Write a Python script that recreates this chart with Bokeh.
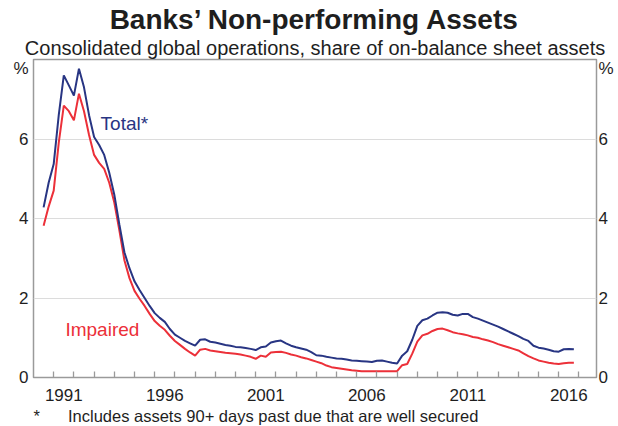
from bokeh.plotting import figure
from bokeh.models import Range1d, FixedTicker, LinearAxis, Label, Title
from bokeh.embed import file_html
from bokeh.resources import INLINE

# ---- data (quarterly, decimal years) ----
quarters = [1990.5 + 0.25 * i for i in range(106)]

total = [4.28, 4.90,
         5.37, 6.60, 7.60, 7.35,
         7.09, 7.77, 7.30, 6.60,
         6.05, 5.85, 5.60, 5.15,
         4.60, 3.85, 3.15, 2.75,
         2.42, 2.20, 2.00, 1.80,
         1.62, 1.50, 1.40, 1.22,
         1.08, 1.00, 0.92, 0.86,
         0.80, 0.95, 0.96, 0.90,
         0.88, 0.85, 0.82, 0.80,
         0.77, 0.76, 0.74, 0.72,
         0.69, 0.76, 0.78, 0.88,
         0.91, 0.93, 0.86, 0.80,
         0.76, 0.73, 0.70, 0.64,
         0.56, 0.55, 0.52, 0.50,
         0.48, 0.47, 0.45, 0.43,
         0.42, 0.41, 0.40, 0.39,
         0.42, 0.43, 0.40, 0.37,
         0.35, 0.55, 0.66, 0.95,
         1.30, 1.44, 1.48, 1.56,
         1.63, 1.64, 1.63, 1.58,
         1.56, 1.60, 1.60, 1.52,
         1.48, 1.43, 1.38, 1.33,
         1.28, 1.22, 1.16, 1.10,
         1.04, 0.97, 0.92, 0.80,
         0.75, 0.73, 0.70, 0.66,
         0.65, 0.71, 0.72, 0.71]

impaired = [3.82, 4.30,
            4.70, 5.90, 6.84, 6.70,
            6.47, 7.14, 6.70, 6.10,
            5.60, 5.40, 5.25, 4.90,
            4.40, 3.70, 2.95, 2.50,
            2.18, 1.98, 1.80, 1.60,
            1.42, 1.30, 1.20, 1.05,
            0.92, 0.82, 0.72, 0.63,
            0.55, 0.70, 0.72, 0.68,
            0.66, 0.64, 0.62, 0.61,
            0.60, 0.58, 0.55, 0.52,
            0.47, 0.55, 0.52, 0.63,
            0.64, 0.65, 0.62, 0.58,
            0.55, 0.51, 0.48, 0.44,
            0.40, 0.36, 0.30, 0.26,
            0.24, 0.22, 0.20, 0.18,
            0.17, 0.16, 0.16, 0.16,
            0.16, 0.16, 0.16, 0.16,
            0.16, 0.31, 0.34, 0.60,
            0.90, 1.06, 1.10, 1.17,
            1.22, 1.23, 1.19, 1.14,
            1.11, 1.09, 1.06, 1.02,
            1.00, 0.96, 0.93, 0.89,
            0.84, 0.80, 0.76, 0.72,
            0.68, 0.61, 0.54, 0.48,
            0.43, 0.40, 0.37, 0.35,
            0.34, 0.36, 0.37, 0.37]

year_ticks = list(range(1991, 2018))
label_years = [1991, 1996, 2001, 2006, 2011, 2016]
label_text = ["1991", "1996", "2001", "2006", "2011", "2016"]
y_ticks = [0, 2, 4, 6]
y_labels = ["0", "2", "4", "6"]
unit_pos = 7.77
unit_text = "%"
grid_ticks = [2, 4, 6]

title_text = "Banks\u2019 Non-performing Assets"
subtitle_text = "Consolidated global operations, share of on-balance sheet assets"
footnote_text = "*\u2003\u2002\u2009Includes assets 90+ days past due that are well secured"

NAVY = "#283583"
RED = "#ec3039"
GREY = "#9a9a9a"
TXT = "#1e1e1e"
FONT = "Liberation Sans"

p = figure(width=618, height=426, output_backend="svg", toolbar_location=None,
           title=None,
           x_range=Range1d(1990, 2017.87), y_range=Range1d(0, 8),
           min_border_left=33, min_border_right=22,
           min_border_top=59, min_border_bottom=48)

p.background_fill_color = "white"
p.border_fill_color = "white"
p.outline_line_color = GREY
p.outline_line_width = 1.5

p.xgrid.visible = False
p.ygrid.ticker = FixedTicker(ticks=grid_ticks)
p.ygrid.grid_line_color = "#dcdcdc"
p.ygrid.grid_line_width = 1

# x axis: labels centred in each labelled year, inward ticks at year starts
xa = p.xaxis[0]
xa.ticker = FixedTicker(ticks=[y + 0.5 for y in label_years], minor_ticks=year_ticks)
xa.major_label_overrides = {y + 0.5: t for y, t in zip(label_years, label_text)}
xa.major_tick_in = 0
xa.major_tick_out = 0
xa.minor_tick_in = 6
xa.minor_tick_out = 0
xa.minor_tick_line_color = GREY
xa.minor_tick_line_width = 1.3
xa.axis_line_color = None
xa.major_label_standoff = 11
xa.major_label_text_font = FONT
xa.major_label_text_font_size = "17px"
xa.major_label_text_color = TXT

# y axes (left and right), with "%" unit label at the top
ya = p.yaxis[0]
ra = LinearAxis()
p.add_layout(ra, "right")
for ax, so in ((ya, 5), (ra, 2)):
    ax.ticker = FixedTicker(ticks=y_ticks + [unit_pos])
    ax.major_label_overrides = dict(zip(y_ticks + [unit_pos], y_labels + [unit_text]))
    ax.major_tick_in = 0
    ax.major_tick_out = 0
    ax.minor_tick_in = 0
    ax.minor_tick_out = 0
    ax.axis_line_color = None
    ax.major_label_standoff = so
    ax.major_label_text_font = FONT
    ax.major_label_text_font_size = "17px"
    ax.major_label_text_color = TXT

# series
p.line(quarters, impaired, line_color=RED, line_width=2)
p.line(quarters, total, line_color=NAVY, line_width=2)

# series labels
p.add_layout(Label(x=1993.32, y=6.39, text="Total*", text_font=FONT,
                   text_font_size="19px", text_color=NAVY, text_baseline="alphabetic"))
p.add_layout(Label(x=1991.58, y=1.20, text="Impaired", text_font=FONT,
                   text_font_size="19px", text_color=RED, text_baseline="alphabetic"))

# titles (first added sits nearest the frame)
p.add_layout(Title(text=subtitle_text, align="center", text_font=FONT,
                   text_font_size="20px", text_font_style="normal",
                   text_color=TXT, standoff=1), "above")
p.add_layout(Title(text=title_text, align="center", text_font=FONT,
                   text_font_size="28px", text_font_style="bold",
                   text_color=TXT, standoff=0), "above")
# footnote
p.add_layout(Title(text=footnote_text, align="left", offset=0, text_font=FONT,
                   text_font_size="16.5px", text_font_style="normal",
                   text_color=TXT, standoff=3), "below")

open("out.html", "w").write(file_html(p, INLINE))
